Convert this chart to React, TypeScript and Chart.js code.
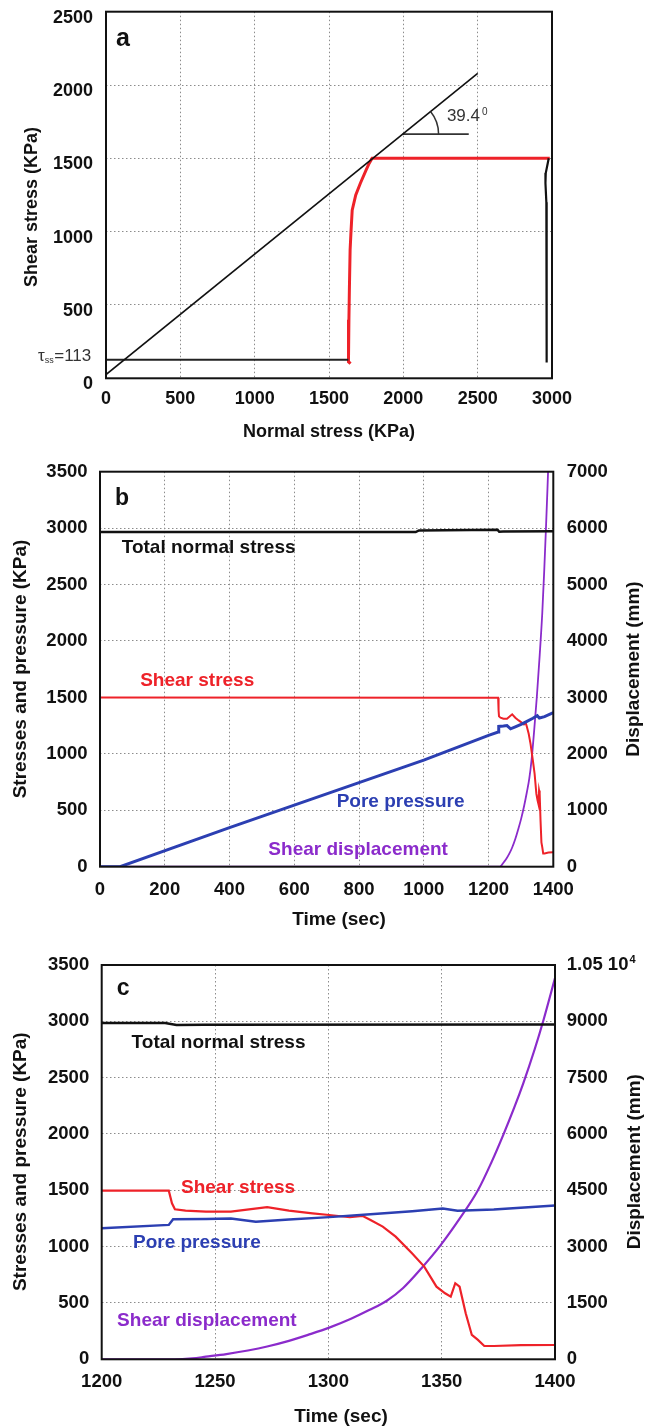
import React, { useEffect, useRef } from 'react';
import { Chart, registerables } from 'chart.js';

Chart.register(...registerables);

const FONT = "'Liberation Sans', Arial, Helvetica, sans-serif";
const PAGE_W = 645;

// ---------------- Panel a : stress path ----------------
const normalTickStep = 500;
const normalMin = 0;
const normalMax = 3000;
const shearMin = 0;
const shearMax = 2500;
const shearTickStep = 500;

const failureNormal = [0, 2500];
const failureShear = [25, 2080];
const residualNormal = [0, 1630];
const residualShear = [127, 127];
const angleRefNormal = [1995, 2440];
const angleRefShear = [1665, 1665];
const effectivePathNormal = [2985, 1790, 1770, 1750, 1711, 1680, 1656, 1648, 1642, 1637, 1634, 1632, 1630, 1645];
const effectivePathShear = [1500, 1500, 1465, 1421, 1330, 1250, 1147, 1000, 875, 600, 400, 250, 113, 100];
const totalPathNormal = [2978, 2970, 2958, 2956, 2962, 2964, 2964, 2964];
const totalPathShear = [1500, 1460, 1400, 1330, 1200, 990, 500, 108];
const frictionAngleText = '39.4';
const residualValueText = '=113';

// ---------------- Panels b, c : time series ----------------
const normalTime = [0, 975, 985, 1228, 1233, 1245, 1400];
const normalStress = [2965, 2965, 2980, 2985, 2968, 2970, 2972];

const shearTime = [0, 1229.6, 1231, 1232.3, 1237, 1246, 1257, 1265, 1273, 1282.6, 1293, 1300.4, 1309.5, 1315, 1318.6, 1324, 1329.7, 1336.9, 1342.3, 1347.7, 1351.5, 1354, 1356, 1357.9, 1360.6, 1363.3, 1366, 1368.8, 1373, 1385, 1400];
const shearStress = [1500, 1497, 1385, 1332, 1320, 1311, 1311, 1330, 1350, 1320, 1296, 1281, 1261, 1273, 1237, 1178, 1089, 941, 823, 645, 586, 556, 675, 645, 408, 216, 172, 118, 118, 125, 127];

const poreTime = [0, 62, 400, 800, 1000, 1200, 1229.6, 1231.5, 1246, 1257, 1268, 1282.6, 1300.4, 1318.6, 1337, 1350.5, 1357, 1373, 1400];
const porePressure = [0, 0, 347, 745, 945, 1163, 1193, 1243, 1246, 1250, 1222, 1240, 1262, 1288, 1315, 1338, 1318, 1330, 1365];

const dispTime = [0, 1232, 1240, 1246, 1255, 1264.5, 1273, 1282.6, 1291, 1300.4, 1310, 1318, 1325.8, 1333, 1341, 1349.3, 1358, 1366, 1372, 1377, 1382, 1386, 1391, 1395, 1400];
const displacement = [0, 0, 25, 70, 140, 235, 340, 490, 650, 843, 1080, 1310, 1560, 1900, 2420, 3020, 3750, 4500, 5250, 5950, 6700, 7350, 8250, 9050, 10150];

const timeMinB = 0;
const timeMaxB = 1400;
const timeStepB = 200;
const timeMinC = 1200;
const timeMaxC = 1400;
const timeStepC = 50;
const stressMax = 3500;
const stressStep = 500;
const dispMaxB = 7000;
const dispStepB = 1000;
const dispMaxC = 10500;
const dispStepC = 1500;

// ---------------- Styles / layout ----------------
const RED = '#ee2229';
const BLUE = '#2c3fb2';
const PURPLE = '#8b2bcb';
const BLACK = '#111111';
const GRID = '#8c8c8c';

type Box = { canvasTop: number; canvasH: number; left: number; right: number; top: number; bottom: number; hasRight: boolean };

const boxA: Box = { canvasTop: 0, canvasH: 445, left: 106, right: 552, top: 11.7, bottom: 378.3, hasRight: false };
const boxB: Box = { canvasTop: 445, canvasH: 490, left: 100, right: 553.3, top: 471.7, bottom: 866.7, hasRight: true };
const boxC: Box = { canvasTop: 935, canvasH: 493, left: 101.7, right: 555, top: 965, bottom: 1359.3, hasRight: true };

const series = (xs: number[], ys: number[]) => xs.map((x, i) => ({ x, y: ys[i] }));
const plain = (v: number) => String(v);

const lineDs = (data: any[], color: string, width: number, extra: any = {}) => ({
  data,
  borderColor: color,
  backgroundColor: color,
  borderWidth: width,
  pointRadius: 0,
  pointHoverRadius: 0,
  tension: 0,
  fill: false,
  ...extra,
});

const tickFont = (size: number) => ({ family: FONT, size, weight: 'bold' as const });

function layoutFor(b: Box) {
  return {
    padding: {
      left: 0,
      top: b.top - b.canvasTop,
      right: b.hasRight ? 0 : PAGE_W - b.right,
      bottom: 0,
    },
  };
}

function fitY(width: number) {
  return (s: any) => {
    s.width = width;
    s.paddingTop = 0;
    s.paddingBottom = 0;
  };
}
function fitX(height: number) {
  return (s: any) => {
    s.height = height;
    s.paddingLeft = 0;
    s.paddingRight = 0;
  };
}

function frame() {
  return {
    id: 'frame',
    afterDatasetsDraw(chart: any) {
      const { ctx, chartArea: a } = chart;
      ctx.save();
      ctx.strokeStyle = BLACK;
      ctx.lineWidth = 2;
      ctx.strokeRect(a.left, a.top, a.right - a.left, a.bottom - a.top);
      ctx.restore();
    },
  };
}

function text(ctx: CanvasRenderingContext2D, s: string, x: number, y: number, font: string, color: string, align: CanvasTextAlign = 'left', baseline: CanvasTextBaseline = 'alphabetic', rotate = false) {
  ctx.save();
  ctx.font = font;
  ctx.fillStyle = color;
  ctx.textAlign = align;
  ctx.textBaseline = baseline;
  if (rotate) {
    ctx.translate(x, y);
    ctx.rotate(-Math.PI / 2);
    ctx.fillText(s, 0, 0);
  } else {
    ctx.fillText(s, x, y);
  }
  ctx.restore();
}

const gridOpts = { color: GRID, lineWidth: 1, drawTicks: false };
const borderOpts = { display: false, dash: [1.5, 2.5] };

// annotations anchored in data coordinates
type Note = { text: string; x: number; y: number; color: string };
const notesB: Note[] = [
  { text: 'Total normal stress', x: 67, y: 2777, color: BLACK },
  { text: 'Shear stress', x: 124, y: 1601, color: RED },
  { text: 'Pore pressure', x: 731, y: 529, color: BLUE },
  { text: 'Shear displacement', x: 520, y: 104, color: PURPLE },
];
const notesC: Note[] = [
  { text: 'Total normal stress', x: 1213.2, y: 2761, color: BLACK },
  { text: 'Shear stress', x: 1235, y: 1474, color: RED },
  { text: 'Pore pressure', x: 1213.8, y: 986, color: BLUE },
  { text: 'Shear displacement', x: 1206.8, y: 296, color: PURPLE },
];

function buildA() {
  const b = boxA;
  return {
    type: 'line',
    data: {
      datasets: [
        lineDs(series(failureNormal, failureShear), BLACK, 1.6),
        lineDs(series(residualNormal, residualShear), '#222', 2),
        lineDs(series(angleRefNormal, angleRefShear), '#333', 1.8),
        lineDs(series(totalPathNormal, totalPathShear), BLACK, 2.2),
        lineDs(series(effectivePathNormal, effectivePathShear), RED, 3),
      ],
    },
    options: {
      responsive: false,
      animation: false,
      devicePixelRatio: 1,
      layout: layoutFor(b),
      plugins: { legend: { display: false }, tooltip: { enabled: false } },
      scales: {
        x: {
          type: 'linear',
          min: normalMin,
          max: normalMax,
          afterFit: fitX(b.canvasTop + b.canvasH - b.bottom),
          ticks: { stepSize: normalTickStep, font: tickFont(18), color: BLACK, padding: 10, maxRotation: 0, callback: plain },
          grid: gridOpts,
          border: borderOpts,
        },
        y: {
          type: 'linear',
          min: shearMin,
          max: shearMax,
          afterFit: fitY(b.left),
          ticks: { stepSize: shearTickStep, font: tickFont(18), color: BLACK, padding: 13, labelOffset: 6, callback: plain },
          grid: gridOpts,
          border: borderOpts,
        },
      },
    },
    plugins: [
      frame(),
      {
        id: 'annA',
        afterDraw(chart: any) {
          const ctx: CanvasRenderingContext2D = chart.ctx;
          const xs = chart.scales.x;
          const ys = chart.scales.y;
          const a = chart.chartArea;
          // friction angle arc
          const cx = xs.getPixelForValue(angleRefNormal[0]);
          const cy = ys.getPixelForValue(angleRefShear[0]);
          const ang = Math.atan2(
            ys.getPixelForValue(failureShear[0]) - ys.getPixelForValue(failureShear[1]),
            xs.getPixelForValue(failureNormal[1]) - xs.getPixelForValue(failureNormal[0])
          );
          ctx.save();
          ctx.beginPath();
          ctx.arc(cx, cy, 36, -ang, 0);
          ctx.strokeStyle = '#333';
          ctx.lineWidth = 1.5;
          ctx.stroke();
          ctx.restore();
          const lx = xs.getPixelForValue(2293);
          const ly = ys.getPixelForValue(1757);
          text(ctx, frictionAngleText, lx, ly, `17px ${FONT}`, '#333');
          ctx.font = `17px ${FONT}`;
          const w = ctx.measureText(frictionAngleText).width;
          text(ctx, '0', lx + w + 2, ly - 6, `10px ${FONT}`, '#333');
          // residual label
          const by = ys.getPixelForValue(residualShear[0]) + 1.5;
          let tx = a.left - 68;
          text(ctx, 'τ', tx, by, `17px ${FONT}`, '#333');
          ctx.font = `17px ${FONT}`;
          tx += ctx.measureText('τ').width;
          text(ctx, 'ss', tx, by + 2, `9px ${FONT}`, '#333');
          ctx.font = `9px ${FONT}`;
          tx += ctx.measureText('ss').width + 0.5;
          text(ctx, residualValueText, tx, by, `17px ${FONT}`, '#333');
          // panel letter
          text(ctx, 'a', xs.getPixelForValue(67), ys.getPixelForValue(2266), `bold 25px ${FONT}`, BLACK);
          // axis titles
          text(ctx, 'Shear stress (KPa)', 32, 207, `bold 18px ${FONT}`, BLACK, 'center', 'middle', true);
          text(ctx, 'Normal stress (KPa)', (a.left + a.right) / 2, 432, `bold 18px ${FONT}`, BLACK, 'center', 'middle');
        },
      },
    ],
  };
}

function buildTime(b: Box, tMin: number, tMax: number, tStep: number, dMax: number, dStep: number, notes: Note[], letter: string, titleY: { left: [number, number]; right: [number, number]; bottom: [number, number] }, xPad: number, rightPad: number, isC: boolean) {
  return {
    type: 'line',
    data: {
      datasets: [
        lineDs(series(normalTime, normalStress), BLACK, 2.5),
        lineDs(series(poreTime, porePressure), BLUE, isC ? 2.5 : 3),
        lineDs(series(shearTime, shearStress), RED, isC ? 2.2 : 2),
        lineDs(series(dispTime, displacement), PURPLE, isC ? 2.2 : 1.8, { yAxisID: 'y1', cubicInterpolationMode: 'monotone' }),
      ],
    },
    options: {
      responsive: false,
      animation: false,
      devicePixelRatio: 1,
      layout: layoutFor(b),
      plugins: { legend: { display: false }, tooltip: { enabled: false } },
      scales: {
        x: {
          type: 'linear',
          min: tMin,
          max: tMax,
          afterFit: fitX(b.canvasTop + b.canvasH - b.bottom),
          ticks: { stepSize: tStep, font: tickFont(18.5), color: BLACK, padding: xPad, maxRotation: 0, callback: plain },
          grid: gridOpts,
          border: borderOpts,
        },
        y: {
          type: 'linear',
          position: 'left',
          min: 0,
          max: stressMax,
          afterFit: fitY(b.left),
          ticks: { stepSize: stressStep, font: tickFont(18.5), color: BLACK, padding: 12.5, callback: plain },
          grid: gridOpts,
          border: borderOpts,
        },
        y1: {
          type: 'linear',
          position: 'right',
          min: 0,
          max: dMax,
          afterFit: fitY(PAGE_W - b.right),
          ticks: {
            stepSize: dStep,
            font: tickFont(18.5),
            color: BLACK,
            padding: rightPad,
            callback: (v: number) => (v === 10500 ? '1.05 10' : String(v)),
          },
          grid: { display: false, drawTicks: false },
          border: { display: false },
        },
      },
    },
    plugins: [
      frame(),
      {
        id: 'annT',
        afterDraw(chart: any) {
          const ctx: CanvasRenderingContext2D = chart.ctx;
          const xs = chart.scales.x;
          const ys = chart.scales.y;
          const y1 = chart.scales.y1;
          const a = chart.chartArea;
          for (const n of notes) {
            text(ctx, n.text, xs.getPixelForValue(n.x), ys.getPixelForValue(n.y), `bold 19px ${FONT}`, n.color);
          }
          const lt = isC ? { x: 1206.6, y: 3236 } : { x: 46, y: 3205 };
          text(ctx, letter, xs.getPixelForValue(lt.x), ys.getPixelForValue(lt.y), `bold 23px ${FONT}`, BLACK);
          if (isC) {
            ctx.font = `bold 18.5px ${FONT}`;
            const w = ctx.measureText('1.05 10').width;
            const py = y1.getPixelForValue(10500);
            text(ctx, '4', a.right + rightPad + w + 1, py - 2, `bold 11px ${FONT}`, BLACK);
          }
          text(ctx, 'Stresses and pressure (KPa)', titleY.left[0], titleY.left[1], `bold 19px ${FONT}`, BLACK, 'center', 'middle', true);
          text(ctx, 'Displacement (mm)', titleY.right[0], titleY.right[1], `bold 19px ${FONT}`, BLACK, 'center', 'middle', true);
          text(ctx, 'Time (sec)', titleY.bottom[0], titleY.bottom[1], `bold 19px ${FONT}`, BLACK, 'center', 'middle');
        },
      },
    ],
  };
}

const buildB = () =>
  buildTime(boxB, timeMinB, timeMaxB, timeStepB, dispMaxB, dispStepB, notesB, 'b',
    { left: [20.5, 224], right: [633.3, 224], bottom: [339, 475] }, 12.5, 13.4, false);
const buildC = () =>
  buildTime(boxC, timeMinC, timeMaxC, timeStepC, dispMaxC, dispStepC, notesC, 'c',
    { left: [21, 226.7], right: [635, 226.7], bottom: [341, 481.7] }, 11.5, 11.7, true);

function ChartPanel({ box, build }: { box: Box; build: () => any }) {
  const ref = useRef<HTMLCanvasElement>(null);
  useEffect(() => {
    const chart = new Chart(ref.current as HTMLCanvasElement, build());
    return () => chart.destroy();
  }, []);
  return (
    <canvas
      ref={ref}
      width={PAGE_W}
      height={box.canvasH}
      style={{ position: 'absolute', left: 0, top: box.canvasTop, width: PAGE_W, height: box.canvasH }}
    />
  );
}

export default function App() {
  return (
    <div style={{ position: 'absolute', left: 0, top: 0, width: PAGE_W, height: 1428, background: '#fff' }}>
      <ChartPanel box={boxA} build={buildA} />
      <ChartPanel box={boxB} build={buildB} />
      <ChartPanel box={boxC} build={buildC} />
    </div>
  );
}
